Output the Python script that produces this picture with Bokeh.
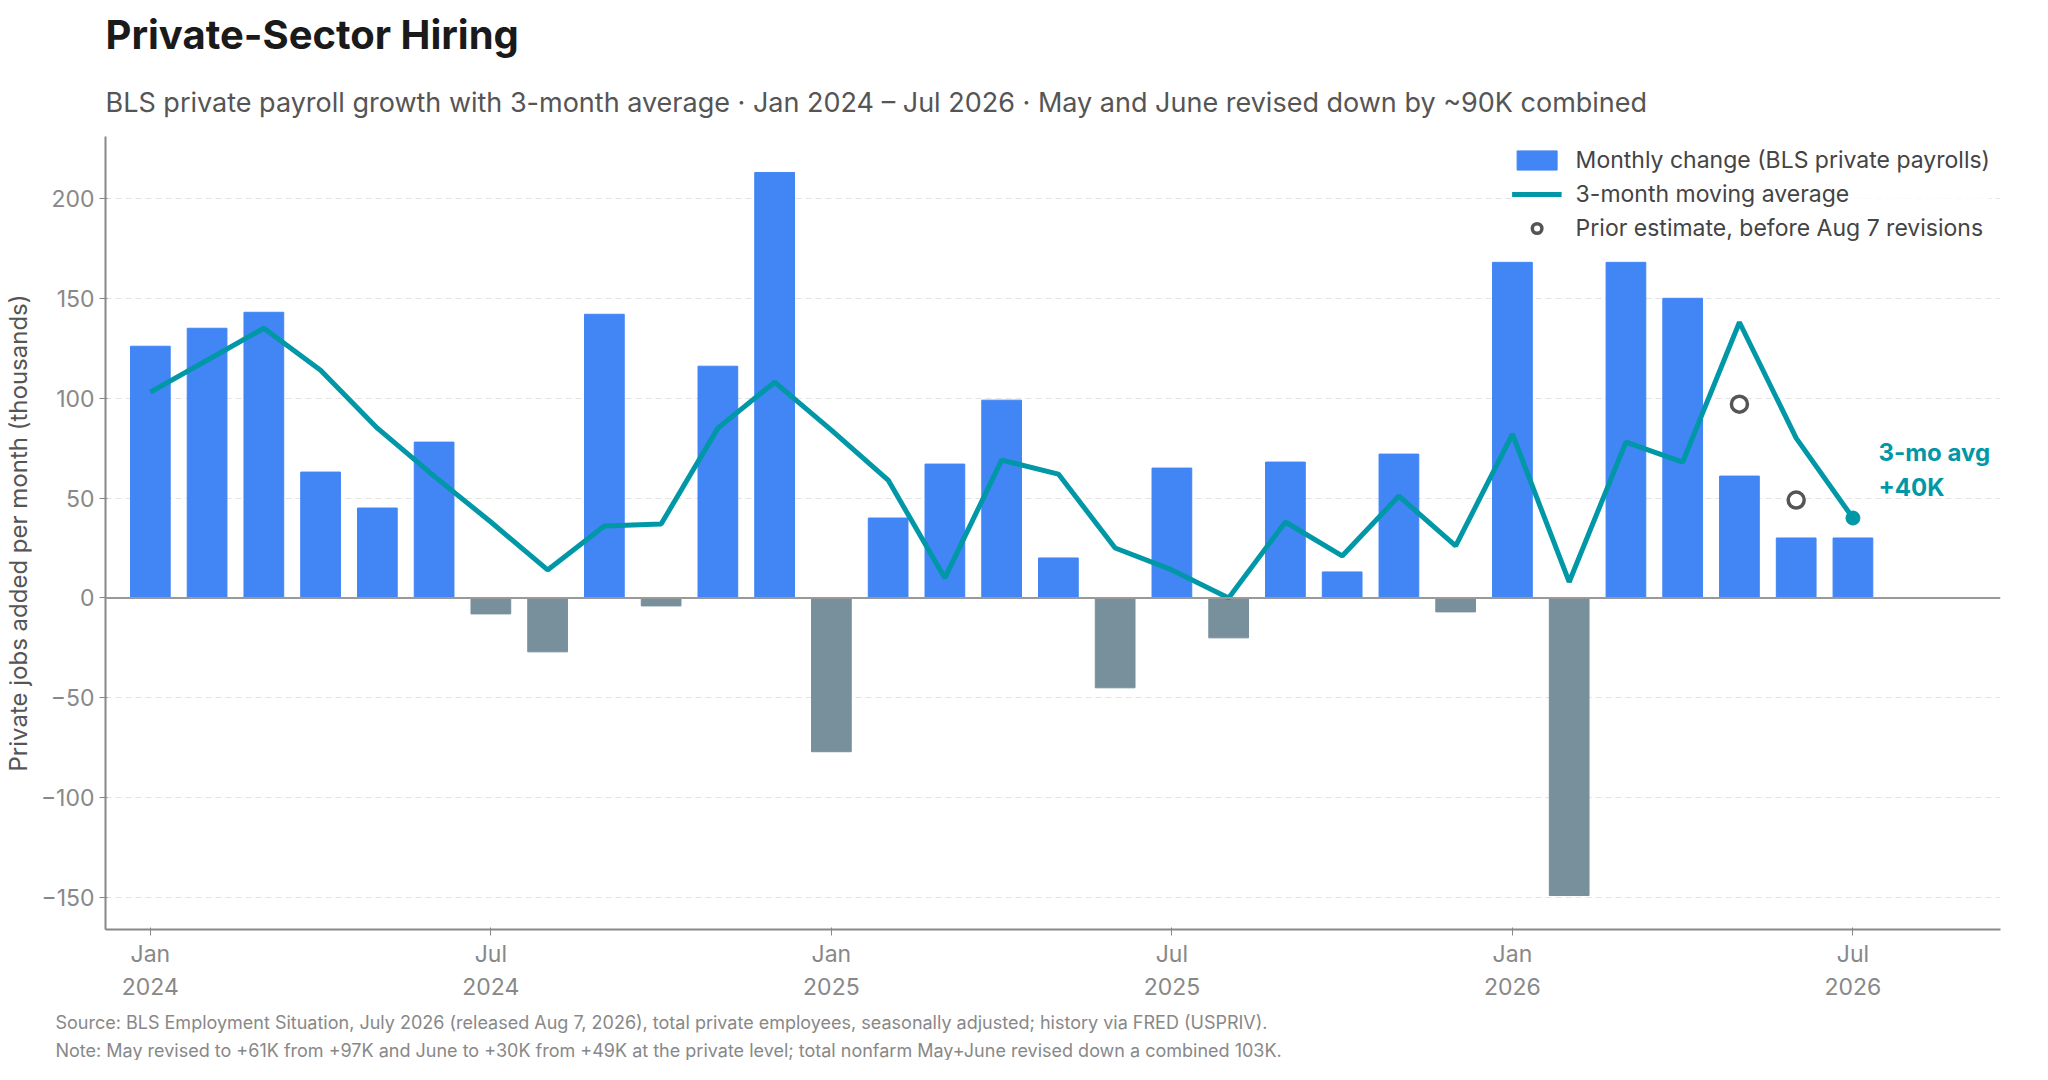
from bokeh.plotting import figure
from bokeh.models import Title, Legend, LegendItem, FixedTicker, ColumnDataSource, Label, Span
from bokeh.embed import file_html
from bokeh.resources import INLINE

months = ["Jan 2024","Feb 2024","Mar 2024","Apr 2024","May 2024","Jun 2024","Jul 2024","Aug 2024","Sep 2024","Oct 2024","Nov 2024","Dec 2024",
          "Jan 2025","Feb 2025","Mar 2025","Apr 2025","May 2025","Jun 2025","Jul 2025","Aug 2025","Sep 2025","Oct 2025","Nov 2025","Dec 2025",
          "Jan 2026","Feb 2026","Mar 2026","Apr 2026","May 2026","Jun 2026","Jul 2026"]
monthly = [126,135,143,63,45,78,-8,-27,142,-4,116,213,
           -77,40,67,99,20,-45,65,-20,68,13,72,-7,
           168,-149,168,150,61,30,30]
avg3 = [103,119,135,114,85,61,38,14,36,37,85,108,
        84,59,10,69,62,25,14,0,38,21,51,26,
        82,8,78,68,138,80,40]
prior_idx = [28,29]
prior_vals = [97,49]
tick_idx = [0,6,12,18,24,30]
tick_labels = ["Jan\n2024","Jul\n2024","Jan\n2025","Jul\n2025","Jan\n2026","Jul\n2026"]

FONT = "Inter"
x = list(range(len(months)))
pos = ColumnDataSource(dict(x=[i for i in x if monthly[i] >= 0], top=[v for v in monthly if v >= 0]))
neg = ColumnDataSource(dict(x=[i for i in x if monthly[i] < 0], top=[v for v in monthly if v < 0]))

p = figure(width=2030, height=1060, output_backend="svg", toolbar_location=None,
           x_range=(-0.79, 32.6), y_range=(-166, 231), min_border_left=100, min_border_right=30,
           min_border_top=30)
p.title.text = "Private-Sector Hiring"
p.title.text_font = FONT; p.title.text_font_size = "40px"; p.title.text_font_style = "bold"
p.title.text_color = "#1a1a1a"; p.title.offset = 0
p.title.standoff = 15
p.add_layout(Title(text="BLS private payroll growth with 3-month average · Jan 2024 – Jul 2026 · May and June revised down by ~90K combined",
                   text_font=FONT, text_font_size="27px", text_font_style="normal", text_color="#555555", offset=0,
                   standoff=35), "above")
p.add_layout(Title(text="Source: BLS Employment Situation, July 2026 (released Aug 7, 2026), total private employees, seasonally adjusted; history via FRED (USPRIV).",
                   text_font=FONT, text_font_size="18px", text_font_style="normal", text_color="#888888", offset=-50), "below")
p.add_layout(Title(text="Note: May revised to +61K from +97K and June to +30K from +49K at the private level; total nonfarm May+June revised down a combined 103K.",
                   text_font=FONT, text_font_size="18px", text_font_style="normal", text_color="#888888", offset=-50,
                   standoff=0), "below")

b1 = p.vbar(x="x", top="top", bottom=0, width=0.7, source=pos, color="#4285F4")
p.vbar(x="x", top="top", bottom=0, width=0.7, source=neg, color="#78909C")
p.add_layout(Span(location=0, dimension="width", line_color="#999999", line_width=2))
l1 = p.line(x, avg3, line_color="#0097A7", line_width=5)
p.scatter([30], [avg3[-1]], size=14, color="#0097A7")
c1 = p.scatter(prior_idx, prior_vals, size=16, fill_color="white", line_color="#555555", line_width=3.5)
p.add_layout(Label(x=30.45, y=avg3[-1] + 8, text="3-mo avg\n+40K", text_font=FONT, text_font_size="24px",
                   text_font_style="bold", text_color="#0097A7"))

legend = Legend(items=[LegendItem(label="Monthly change (BLS private payrolls)", renderers=[b1]),
                       LegendItem(label="3-month moving average", renderers=[l1]),
                       LegendItem(label="Prior estimate, before Aug 7 revisions", renderers=[c1])],
                location="top_right", border_line_color=None, background_fill_alpha=0.8,
                label_text_font=FONT, label_text_font_size="23px", label_text_color="#444444",
                glyph_width=50, glyph_height=24, spacing=6, label_standoff=14)
p.add_layout(legend)

p.xaxis.ticker = FixedTicker(ticks=tick_idx)
p.xaxis.major_label_overrides = {i: t for i, t in zip(tick_idx, tick_labels)}
p.xaxis.major_label_standoff = 4
p.yaxis.ticker = FixedTicker(ticks=[-150, -100, -50, 0, 50, 100, 150, 200])
p.yaxis.major_label_overrides = {-150: "−150", -100: "−100", -50: "−50"}
for ax in (p.xaxis, p.yaxis):
    ax.major_label_text_font = FONT
    ax.major_label_text_font_size = "23px"
    ax.major_label_text_color = "#888888"
    ax.axis_line_color = "#888888"
    ax.axis_line_width = 2
    ax.major_tick_line_color = "#888888"
    ax.minor_tick_line_color = None
p.yaxis.axis_label = "Private jobs added per month (thousands)"
p.yaxis.axis_label_text_font = FONT
p.yaxis.axis_label_text_font_size = "24px"
p.yaxis.axis_label_text_font_style = "normal"
p.yaxis.axis_label_text_color = "#555555"
p.xgrid.grid_line_color = None
p.ygrid.grid_line_color = "#e3e3e3"
p.ygrid.grid_line_dash = "6 4"
p.outline_line_color = None

open("out.html", "w").write(file_html(p, INLINE))
